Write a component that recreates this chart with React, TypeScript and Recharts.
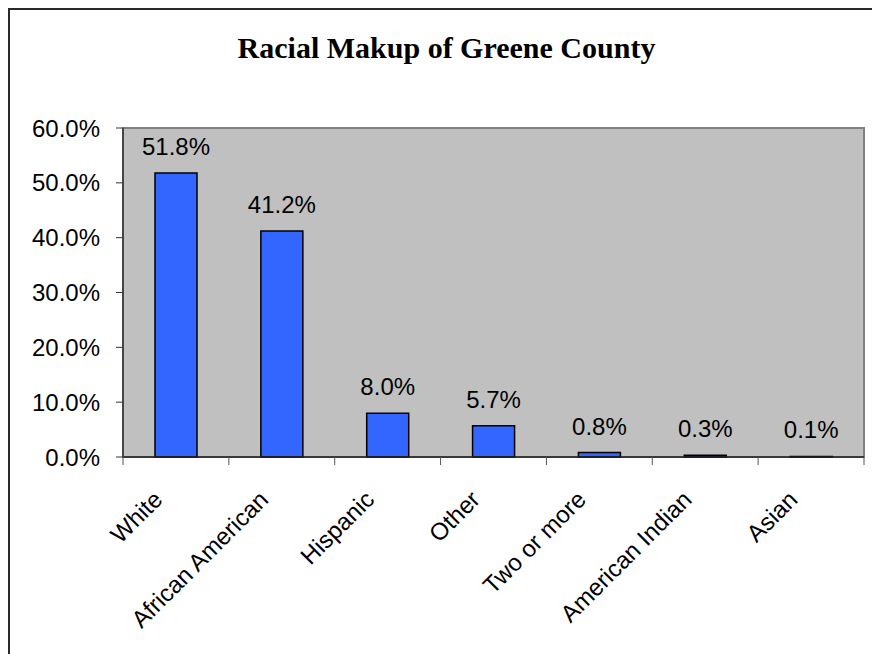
import React from 'react'
import { Bar, BarChart, LabelList, ReferenceArea, XAxis, YAxis } from 'recharts'

const categories = ['White', 'African American', 'Hispanic', 'Other', 'Two or more', 'American Indian', 'Asian']
const percentages = [51.8, 41.2, 8.0, 5.7, 0.8, 0.3, 0.1]
const yTicks = [0, 10, 20, 30, 40, 50, 60]

const data = categories.map((name, i) => ({ name, idx: i, value: percentages[i] }))
// category boundaries, Excel puts the x tick marks between bars
const edgeTicks = [...categories.map((_, i) => i - 0.5), categories.length - 0.5]

const FONT = 'Arial, "Liberation Sans", sans-serif'
const pct = (v: number) => `${Number(v).toFixed(1)}%`

function RotatedTick({ x, y, payload }: any) {
  return (
    <g transform={`translate(${x - 12},${y + 43})`}>
      <text textAnchor="end" transform="rotate(-45)" fontSize={24} fontFamily={FONT} fill="#000">
        {payload.value}
      </text>
    </g>
  )
}

export default function App() {
  return (
    <div
      style={{
        position: 'fixed',
        left: 8,
        top: 8,
        width: 900,
        height: 700,
        boxSizing: 'border-box',
        borderLeft: '2px solid #2a2a2a',
        borderTop: '2px solid #2a2a2a',
        background: '#fff',
      }}
    >
      <div
        style={{
          position: 'absolute',
          left: 0,
          top: 23,
          width: 873,
          textAlign: 'center',
          fontFamily: '"Liberation Serif", "Times New Roman", serif',
          fontWeight: 'bold',
          fontSize: 30,
          lineHeight: '30px',
          color: '#000',
        }}
      >
        Racial Makup of Greene County
      </div>
      <BarChart width={862} height={644} data={data} margin={{ top: 118, right: 8, bottom: 46, left: 0 }}>
        <XAxis
          xAxisId="b"
          dataKey="name"
          interval={0}
          height={150}
          axisLine={false}
          tickLine={false}
          tickSize={0}
          tickMargin={0}
          tick={<RotatedTick />}
        />
        <XAxis
          xAxisId="a"
          dataKey="idx"
          type="number"
          domain={[-0.5, categories.length - 0.5]}
          ticks={edgeTicks}
          allowDataOverflow
          height={1}
          tick={() => <text />}
          tickSize={8}
          tickLine={{ stroke: '#555' }}
          axisLine={{ stroke: '#222', strokeWidth: 1.5 }}
        />
        <YAxis
          yAxisId="left"
          domain={[0, 60]}
          ticks={yTicks}
          tickFormatter={pct}
          width={113}
          tickSize={7}
          tickMargin={16}
          axisLine={{ stroke: '#333', strokeWidth: 1.5 }}
          tickLine={{ stroke: '#333' }}
          tick={{ fontSize: 24, fontFamily: FONT, fill: '#000' }}
        />
        {/* gray plot area with its border */}
        <ReferenceArea
          xAxisId="b"
          yAxisId="left"
          x1={categories[0]}
          x2={categories[categories.length - 1]}
          y1={0}
          y2={60}
          fill="#C0C0C0"
          fillOpacity={1}
          stroke="#808080"
          strokeWidth={2}
          ifOverflow="visible"
        />
        <Bar
          xAxisId="b"
          yAxisId="left"
          dataKey="value"
          barSize={42}
          fill="#3366FF"
          stroke="#000"
          strokeWidth={1.5}
          isAnimationActive={false}
        >
          <LabelList
            dataKey="value"
            position="top"
            offset={18}
            formatter={(v: any) => pct(v)}
            fontSize={24}
            fontFamily={FONT}
            fill="#000"
          />
        </Bar>
      </BarChart>
    </div>
  )
}
